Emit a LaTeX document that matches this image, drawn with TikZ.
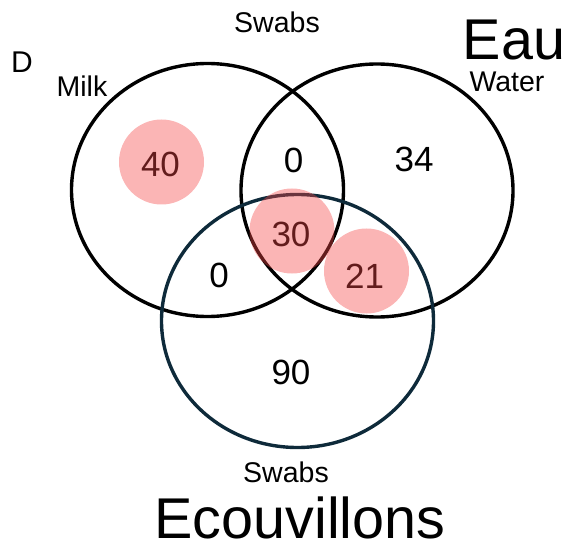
\documentclass[tikz,border=0pt]{standalone}
\usepackage{fontspec}
\setmainfont{Liberation Sans}
\usetikzlibrary{shapes.geometric}
\definecolor{swabline}{RGB}{14,42,58}
\definecolor{pinkfill}{RGB}{245,70,70}
\tikzset{
  setring/.style={ellipse, draw=black, line width=3.4pt, minimum width=272pt, minimum height=253pt, inner sep=0pt},
  hilite/.style={circle, fill=pinkfill, fill opacity=0.4, draw=none, minimum size=85pt, inner sep=0pt},
  num/.style={font=\fontsize{35}{40}\selectfont, inner sep=0pt},
  lab/.style={font=\fontsize{28.5}{32}\selectfont, inner sep=0pt},
  dlab/.style={font=\fontsize{30}{34}\selectfont, inner sep=0pt},
  big/.style={font=\fontsize{57.5}{62}\selectfont, inner sep=0pt}
}
\begin{document}
\begin{tikzpicture}[x=1pt,y=-1pt]
\useasboundingbox (0,0) rectangle (567,545);
\node[setring] (milk) at (207.5,190) {};
\node[setring] (water) at (377,190.5) {};
\node[setring, draw=swabline] (swabs) at (297.5,321) {};
\node[lab] (swabstop) at (277,22) {Swabs};
\node[big] (eau) at (514,40) {Eau};
\node[dlab] (dmark) at (22,62) {D};
\node[lab] (milklab) at (82,86) {Milk};
\node[lab] (waterlab) at (507,82) {Water};
\node[num] (n40) at (160.5,164) {40};
\node[num] (n0a) at (293.5,160.5) {0};
\node[num] (n34) at (414,159) {34};
\node[num] (n30) at (291,234) {30};
\node[num] (n0b) at (219,275) {0};
\node[num] (n21) at (364.5,276) {21};
\node[num] (n90) at (291,372.5) {90};
\node[lab] (swabsbot) at (286,472) {Swabs};
\node[big] (ecou) at (300,518) {Ecouvillons};
\node[hilite] (p40) at (161.5,162) {};
\node[hilite] (p30) at (292,231) {};
\node[hilite] (p21) at (366.5,271) {};
\end{tikzpicture}
\end{document}
